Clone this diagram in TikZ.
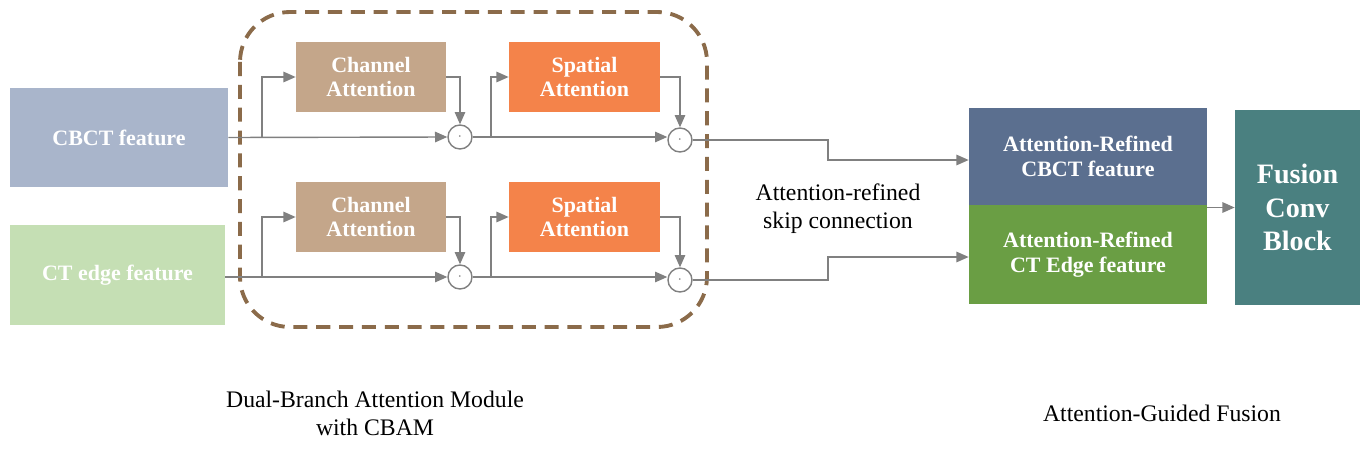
\documentclass[tikz,border=0pt]{standalone}
\usepackage{fontspec}
\setmainfont{Liberation Serif}
\usetikzlibrary{arrows.meta}
\definecolor{cbct}{HTML}{A9B5CB}
\definecolor{ctedge}{HTML}{C5DFB4}
\definecolor{chan}{HTML}{C4A68A}
\definecolor{spat}{HTML}{F4834A}
\definecolor{refa}{HTML}{5B6F8F}
\definecolor{refb}{HTML}{6A9E44}
\definecolor{fus}{HTML}{4A8080}
\definecolor{dashbrown}{HTML}{8B6B4A}
\definecolor{ln}{HTML}{808080}
\begin{document}
\begin{tikzpicture}[x=0.02cm,y=-0.02cm,
 box/.style={draw=none,inner sep=0,text=white,font=\bfseries\fontsize{12.5}{14}\selectfont,align=center},
 op/.style={circle,draw=ln,thick,minimum size=0.48cm,inner sep=0,font=\bfseries\small,text=ln},
 ar/.style={draw=ln,thick,-{Triangle[length=7pt,width=6pt]}},
 lab/.style={font=\fontsize{13.5}{16}\selectfont,align=center}]
\useasboundingbox (0,0) rectangle (1370,450);
\node[box,fill=cbct,minimum width=4.36cm,minimum height=1.98cm] (cbct) at (119,137.5) {CBCT feature};
\node[box,fill=ctedge,minimum width=4.3cm,minimum height=2cm] (cte) at (117.5,275) {CT edge feature};
\draw[draw=dashbrown,line width=2.2pt,dash pattern=on 8pt off 5pt,rounded corners=1cm] (240,12) rectangle (707,327);
\foreach \n/\y in {t/0,b/140}{
 \node[box,fill=chan,minimum width=3cm,minimum height=1.4cm] (ch\n) at (371,77+\y) {Channel\\Attention};
 \node[box,fill=spat,minimum width=3.02cm,minimum height=1.4cm] (sp\n) at (584.5,77+\y) {Spatial\\Attention};
 \node[op] (o1\n) at (460,137+\y) {$\cdot$};
 \node[op] (o2\n) at (680,140+\y) {$\cdot$};
 \coordinate (s1\n) at (262,137+\y);
 \coordinate (s2\n) at (491,137+\y);
}
\draw[ar] (cbct.east) -- (o1t.west);
\draw[ar] (cte.east|-o1b) -- (o1b.west);
\foreach \n in {t,b}{
 \draw[ar] (s1\n) |- (ch\n.west);
 \draw[ar] (ch\n.east) -| (o1\n.north);
 \draw[ar] (o1\n.east) -- (o2\n.west|-o1\n);
 \draw[ar] (s2\n) |- (sp\n.west);
 \draw[ar] (sp\n.east) -| (o2\n.north);
}
\node[box,fill=refa,minimum width=4.76cm,minimum height=1.94cm] (ra) at (1088,156.5) {Attention-Refined\\CBCT feature};
\node[box,fill=refb,minimum width=4.76cm,minimum height=1.98cm] (rb) at (1088,254.5) {Attention-Refined\\CT Edge feature};
\node[box,fill=fus,minimum width=2.5cm,minimum height=3.9cm,font=\bfseries\fontsize{16}{19}\selectfont] (fu) at (1297.5,207.5) {Fusion\\Conv\\Block};
\coordinate (ka) at (828,160);
\coordinate (kb) at (828,257);
\draw[ar] (o2t.east) -| (ka) -- (ra.west|-ka);
\draw[ar] (o2b.east) -| (kb) -- (rb.west|-kb);
\draw[ar] (ra.east|-fu) -- (fu.west);
\node[lab] (skip) at (838,209) {Attention-refined\\skip connection};
\node[lab] (l1) at (375,413) {Dual-Branch Attention Module\\with CBAM};
\node[lab] (l2) at (1162,413) {Attention-Guided Fusion};
\end{tikzpicture}
\end{document}
